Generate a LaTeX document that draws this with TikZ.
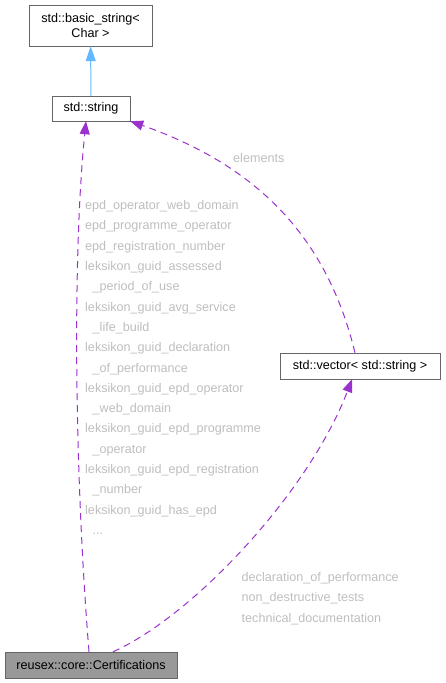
\documentclass[tikz,border=0pt]{standalone}
\usepackage{fontspec}
\setmainfont{Liberation Sans}
\usetikzlibrary{arrows.meta}
\definecolor{edgepurple}{HTML}{9A32CD}
\definecolor{edgeblue}{HTML}{63B8FF}
\definecolor{boxgray}{HTML}{666666}
\definecolor{labelgray}{HTML}{BEBEBE}
\definecolor{certfill}{HTML}{999999}
\newcommand{\ind}{\hspace*{7.5pt}}

\begin{document}
\begin{tikzpicture}[x=1pt,y=-1pt,
    box/.style={draw=boxgray,fill=white,inner sep=0pt,align=center,font=\fontsize{12.6}{15}\selectfont},
    usage/.style={edgepurple,line width=1pt,dash pattern=on 7pt off 5pt,-{Triangle[length=13pt,width=10pt]}},
    lbl/.style={labelgray,inner sep=0pt,anchor=north west,align=left,font=\fontsize{12.6}{20.3}\selectfont}]
      \useasboundingbox (0,0) rectangle (445,683);
      \node [box,minimum width=123pt,minimum height=41pt] (basic) at (90.5,25.5) {std::basic\_string<\\Char >};
      \node [box,minimum width=78pt,minimum height=25pt] (string) at (91,108.5) {std::string};
      \node [box,minimum width=160pt,minimum height=26pt] (vector) at (360,366) {std::vector< std::string >};
      \node [box,fill=certfill,minimum width=172pt,minimum height=26pt] (cert) at (91,665) {reusex::core::Certifications};
      \draw [edgeblue,line width=1pt,-{Triangle[length=15pt,width=10pt]}] (string) -- (basic);
      \draw [usage] ([xshift=-2pt]cert.north) .. controls (75,480) and (72,260) .. ([xshift=-5pt]string.south);
      \draw [usage] ([xshift=-5pt]vector.north) .. controls (330,250) and (270,170) .. (string.south east);
      \draw [usage] ([xshift=22pt]cert.north) .. controls (195,615) and (310,490) .. ([xshift=-8pt]vector.south);
      \node [lbl,anchor=west] (elements) at (233,157.5) {elements};
      \node [lbl] (certlist) at (85,200.3) {epd\_operator\_web\_domain\\epd\_programme\_operator\\epd\_registration\_number\\leksikon\_guid\_assessed\\\ind\_period\_of\_use\\leksikon\_guid\_avg\_service\\\ind\_life\_build\\leksikon\_guid\_declaration\\\ind\_of\_performance\\leksikon\_guid\_epd\_operator\\\ind\_web\_domain\\leksikon\_guid\_epd\_programme\\\ind\_operator\\leksikon\_guid\_epd\_registration\\\ind\_number\\leksikon\_guid\_has\_epd\\\ind...};
      \node [lbl] (vectorlist) at (241.5,572.3) {declaration\_of\_performance\\non\_destructive\_tests\\technical\_documentation};
    \end{tikzpicture}
\end{document}
